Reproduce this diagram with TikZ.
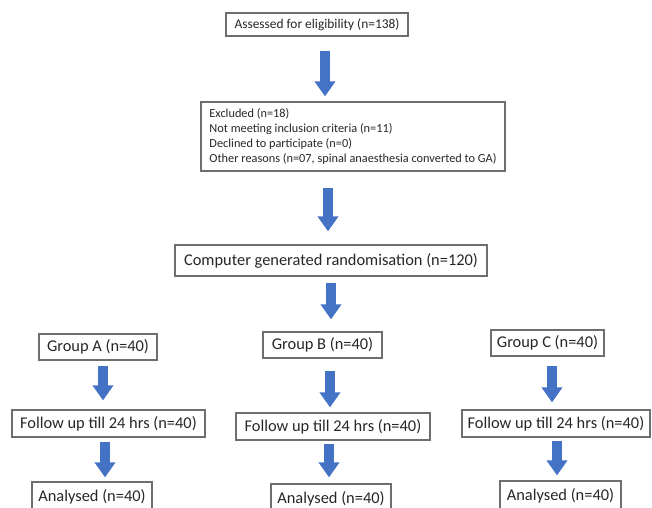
\documentclass[tikz,border=0pt]{standalone}
\usepackage{fontspec}
\setmainfont{Carlito}
\usetikzlibrary{calc,arrows.meta}
\definecolor{arrowblue}{HTML}{4472C4}
\definecolor{boxline}{HTML}{6E6E6E}
\definecolor{boxtext}{HTML}{262626}

\tikzset{
  box/.style={draw=boxline, line width=1.2bp, inner sep=0pt, text=boxtext,
    font=\fontsize{16.4bp}{19bp}\selectfont},
  blockarrow/.style={draw=arrowblue, line width=9.5bp,
    -{Triangle[width=20bp,length=15bp]}}
}

\begin{document}
\begin{tikzpicture}[x=1bp,y=-1bp]
  \useasboundingbox (0,0) rectangle (652,508);

  %% Screening and randomisation boxes
  \node[box, minimum width=182bp, minimum height=23bp,
    font=\fontsize{13.4bp}{16bp}\selectfont] (elig) at (317,24.5)
    {Assessed for eligibility (n=138)};
  \node[box, minimum width=304bp, minimum height=69bp, align=left, inner xsep=7bp,
    font=\fontsize{12.3bp}{15.3bp}\selectfont] (excl) at (353,136.5)
    {Excluded (n=18)\\Not meeting inclusion criteria (n=11)\\Declined to participate (n=0)\\Other reasons (n=07, spinal anaesthesia converted to GA)};
  \node[box, minimum width=312bp, minimum height=31bp] (rand) at (331,260.5)
    {Computer generated randomisation (n=120)};

  %% The three groups
  \foreach \g/\x/\y/\w in {A/98/347/118, B/322.5/345/119, C/547.5/343/113}
    \node[box, minimum width=\w bp, minimum height=26bp] (grp\g) at (\x,\y) {Group \g\ (n=40)};
  \foreach \g/\x/\y/\w in {A/108.5/423.5/193, B/333/426.5/194, C/556/423.5/188}
    \node[box, minimum width=\w bp, minimum height=27bp] (fol\g) at (\x,\y) {Follow up till 24 hrs (n=40)};
  \foreach \g/\x/\y/\w in {A/92/497/120, B/331/499/120, C/560.5/496/121}
    \node[box, minimum width=\w bp, minimum height=30bp] (ana\g) at (\x,\y) {Analysed (n=40)};

  %% Block arrows: from/to/x offset/gap at start/gap at end
  \foreach \a/\b/\dx/\s/\e in {elig/excl/8/14/5, excl/rand/-25/16/13, rand/grpB/0/6/12,
      grpA/folA/5/5/9, folA/anaA/-3.5/4/4, grpB/folB/7.5/12/5,
      folB/anaB/-4/3/6, grpC/folC/4.5/9/7, folC/anaC/1/3/5}
  {
    \draw[blockarrow, shorten <=\s bp, shorten >=\e bp]
      ($(\a.south)+(\dx,0)$) -- ($(\a.south |- \b.north)+(\dx,0)$);
  }
\end{tikzpicture}
\end{document}
